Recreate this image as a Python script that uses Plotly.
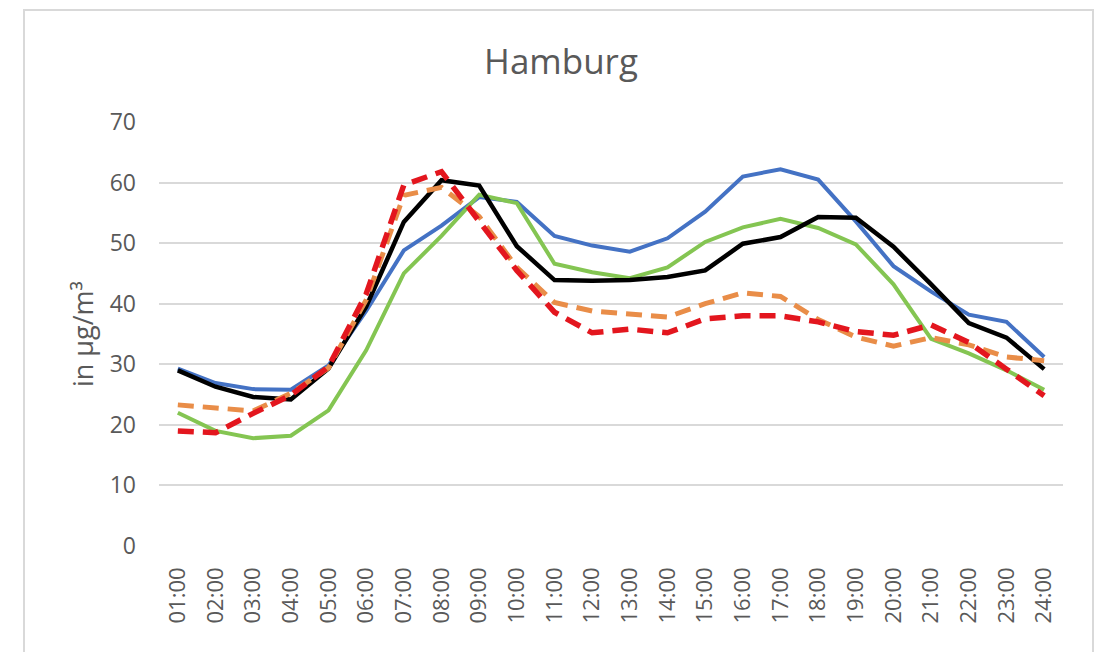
import plotly.graph_objects as go

hours = ["01:00", "02:00", "03:00", "04:00", "05:00", "06:00", "07:00", "08:00",
         "09:00", "10:00", "11:00", "12:00", "13:00", "14:00", "15:00", "16:00",
         "17:00", "18:00", "19:00", "20:00", "21:00", "22:00", "23:00", "24:00"]

blue = [29.3, 26.9, 25.9, 25.8, 29.8, 38.8, 48.8, 52.9, 57.6, 56.8, 51.2, 49.6,
        48.6, 50.8, 55.2, 61.0, 62.2, 60.5, 53.6, 46.2, 42.0, 38.2, 37.0, 31.2]
green = [22.0, 19.0, 17.8, 18.2, 22.4, 32.3, 45.0, 51.2, 58.0, 56.6, 46.6, 45.2,
         44.2, 46.0, 50.2, 52.6, 54.0, 52.5, 49.8, 43.2, 34.2, 31.8, 29.0, 25.8]
orange = [23.3, 22.7, 22.3, 25.2, 29.4, 40.6, 57.9, 59.2, 54.4, 46.0, 40.2, 38.8,
          38.3, 37.8, 40.0, 41.8, 41.2, 37.4, 34.5, 33.0, 34.4, 33.2, 31.2, 30.6]
red = [19.0, 18.7, 21.9, 24.9, 29.6, 41.6, 59.6, 61.8, 53.6, 45.5, 38.6, 35.2,
       35.8, 35.2, 37.5, 38.0, 38.0, 37.0, 35.4, 34.8, 36.5, 33.6, 29.2, 24.8]
black = [29.0, 26.3, 24.6, 24.2, 29.3, 39.5, 53.5, 60.4, 59.5, 49.5, 43.9, 43.8,
         43.9, 44.4, 45.5, 49.9, 51.0, 54.3, 54.2, 49.4, 43.2, 36.8, 34.4, 29.2]

y_ticks = [0, 10, 20, 30, 40, 50, 60, 70]

FONT = "Open Sans"
GREY = "#595959"

fig = go.Figure()
fig.add_trace(go.Scatter(x=hours, y=blue, mode="lines", name="blue",
                         line=dict(color="#4472C4", width=4)))
fig.add_trace(go.Scatter(x=hours, y=green, mode="lines", name="green",
                         line=dict(color="#84C552", width=4)))
fig.add_trace(go.Scatter(x=hours, y=black, mode="lines", name="black",
                         line=dict(color="#000000", width=4.5)))
fig.add_trace(go.Scatter(x=hours, y=orange, mode="lines", name="orange",
                         line=dict(color="#E98D48", width=5, dash="16px,9px")))
fig.add_trace(go.Scatter(x=hours, y=red, mode="lines", name="red",
                         line=dict(color="#E3161E", width=5.5, dash="16px,9px")))

# The page body has an 8px margin: the figure is drawn 8px lower/right.
OFF = 8
W, H = 1102 - OFF, 652 - OFF
# plot area in screen pixels: x 159..1063, y 122..546
L, R, T, B = 159 - OFF, 1063 - OFF, 122 - OFF, 546 - OFF

def px_x(p):
    return (p - OFF - L) / (R - L)

def px_y(p):
    return (B - (p - OFF)) / (B - T)

fig.update_layout(
    width=W, height=H,
    margin=dict(l=L, r=W - R, t=T, b=H - B),
    paper_bgcolor="white", plot_bgcolor="white",
    showlegend=False,
    font=dict(family=FONT, color=GREY, size=22),
    title=dict(text="Hamburg", x=(561 - OFF) / W, xanchor="center",
               y=1 - (62 - OFF) / H, yanchor="middle",
               font=dict(family=FONT, size=35, color=GREY)),
    xaxis=dict(type="category", categoryorder="array", categoryarray=hours,
               range=[-0.5, len(hours) - 0.5],
               tickangle=-90, showgrid=False, showline=False, zeroline=False,
               ticks="", tickfont=dict(size=22, color=GREY),
               ticklabelstandoff=16),
    yaxis=dict(range=[0, 70], tickvals=y_ticks, showgrid=True,
               gridcolor="#d9d9d9", gridwidth=2, zeroline=False,
               showline=False, ticks="", tickfont=dict(size=23, color=GREY),
               ticklabelstandoff=22,
               title=dict(text="in µg/m³", standoff=8,
                          font=dict(size=27, color=GREY))),
    shapes=[dict(type="rect", xref="paper", yref="paper",
                 x0=px_x(24), x1=px_x(1093), y0=px_y(680), y1=px_y(10),
                 line=dict(color="#d9d9d9", width=2), layer="below")],
)

fig.write_html("out.html")
